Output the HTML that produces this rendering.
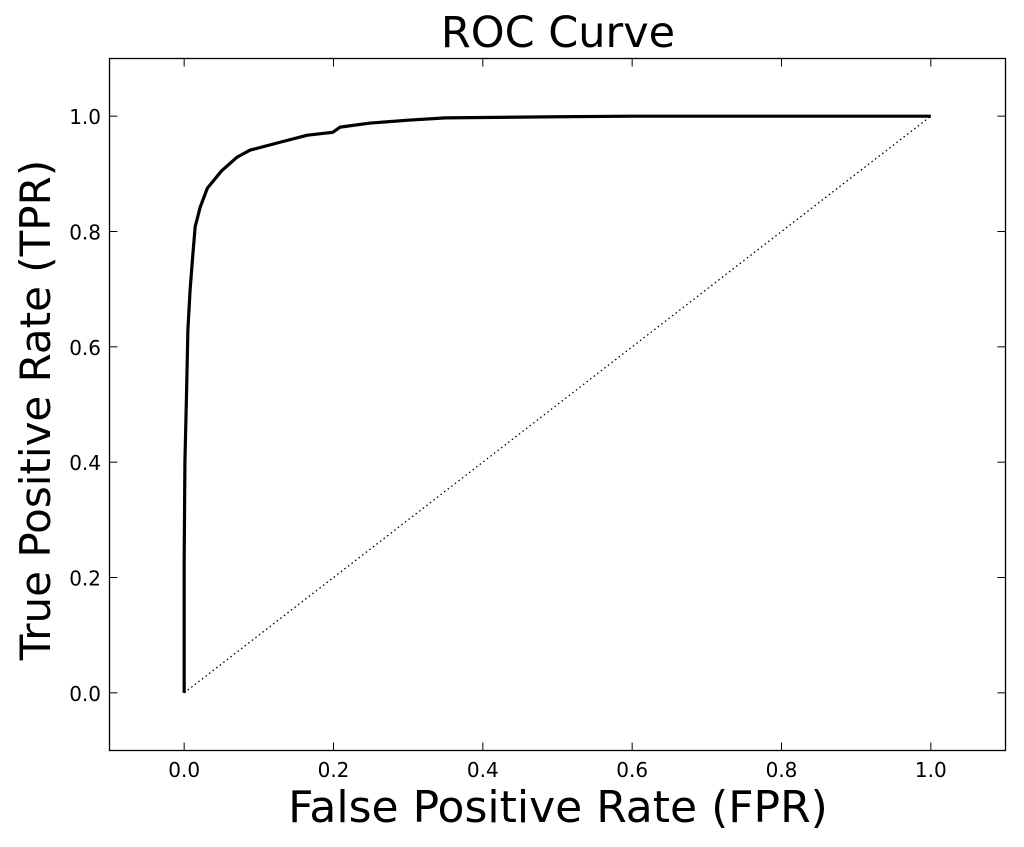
<!DOCTYPE html>
<html><head><meta charset="utf-8"><style>
body{margin:0;background:#fff;}
svg text{font-family:"DejaVu Sans","Liberation Sans",sans-serif;fill:#000;}
</style></head><body>
<svg id="chart" width="1024" height="842" xmlns="http://www.w3.org/2000/svg">
<rect x="0" y="0" width="1024" height="842" fill="#fff"/>
<text x="558" y="47" font-size="43" text-anchor="middle">ROC Curve</text>
<text x="558" y="822" font-size="44" text-anchor="middle">False Positive Rate (FPR)</text>
<text transform="translate(50,410) rotate(-90)" font-size="42" text-anchor="middle">True Positive Rate (TPR)</text>
<g id="plot"></g>
</svg>
<script>
const fprValues=[0,0,0.001,0.003,0.005,0.008,0.011,0.0147,0.0214,0.031,0.05,0.071,0.088,0.129,0.165,0.199,0.209,0.249,0.3,0.35,0.5,0.6,0.8,1.0];
const tprValues=[0,0.23,0.4,0.51,0.63,0.70,0.75,0.808,0.842,0.875,0.905,0.929,0.941,0.955,0.967,0.972,0.981,0.988,0.993,0.997,0.999,1.0,1.0,1.0];
const xTicks=[0,0.2,0.4,0.6,0.8,1.0];
const yTicks=[0,0.2,0.4,0.6,0.8,1.0];
const xMin=-0.1,xMax=1.1,yMin=-0.1,yMax=1.1;
const L=109.5,R=1005.5,T=58.5,B=750.5;
const sx=v=>L+(v-xMin)/(xMax-xMin)*(R-L);
const sy=v=>B-(v-yMin)/(yMax-yMin)*(B-T);
const ns="http://www.w3.org/2000/svg";
const g=document.getElementById('plot');
function mk(tag,attrs){const e=document.createElementNS(ns,tag);for(const k in attrs)e.setAttribute(k,attrs[k]);g.appendChild(e);return e;}
const diag=mk('line',{x1:sx(0),y1:sy(0),x2:sx(1),y2:sy(1),stroke:'#000','stroke-width':1.3,'stroke-dasharray':'1.5,3'});


const curve=mk('polyline',{points:fprValues.map((x,i)=>sx(x)+','+sy(tprValues[i])).join(' '),fill:'none',stroke:'#000','stroke-width':3.2,'stroke-linejoin':'round'});


const frame=mk('rect',{x:L,y:T,width:R-L,height:B-T,fill:'none',stroke:'#000','stroke-width':1.3});


xTicks.forEach(v=>{
  const x=sx(v);
  mk('line',{x1:x,y1:B,x2:x,y2:B-8,stroke:'#000'});
  mk('line',{x1:x,y1:T,x2:x,y2:T+8,stroke:'#000'});
  const t=mk('text',{x:x,y:777,'font-size':20,'text-anchor':'middle'});
  t.textContent=v.toFixed(1);
  
  
});
yTicks.forEach(v=>{
  const y=sy(v);
  mk('line',{x1:L,y1:y,x2:L+8,y2:y,stroke:'#000'});
  mk('line',{x1:R,y1:y,x2:R-8,y2:y,stroke:'#000'});
  const t=mk('text',{x:101,y:y+8,'font-size':20,'text-anchor':'end'});
  t.textContent=v.toFixed(1);
  
  
});
</script>
</body></html>
